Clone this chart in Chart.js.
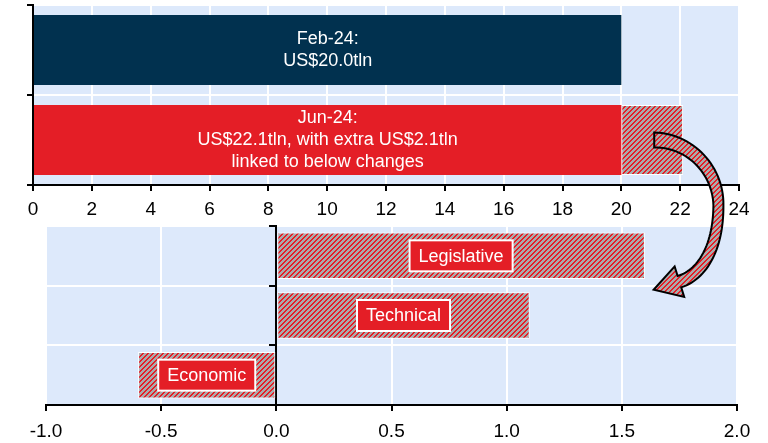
<!DOCTYPE html>
<html>
<head>
<meta charset="utf-8">
<script src="https://cdn.jsdelivr.net/npm/chart.js@4.4.1/dist/chart.umd.min.js"></script>
<style>
html,body{margin:0;padding:0;background:#fff;overflow:hidden}
#wrap{position:relative;width:768px;height:443px}
canvas{position:absolute;left:0;top:0}
</style>
</head>
<body>
<div id="wrap">
<canvas id="topc" width="768" height="443"></canvas>
<canvas id="botc" width="768" height="443"></canvas>
</div>
<script>
// ---- data ----
const TOP_CATEGORIES = ['Feb-24', 'Jun-24'];
const TOP_BASE = [20.0, 20.0];
const TOP_EXTRA = [0, 2.1];
const TOP_TEXT = [
  ['Feb-24:', 'US$20.0tln'],
  ['Jun-24:', 'US$22.1tln, with extra US$2.1tln', 'linked to below changes']
];
const TOP_TICK_MIN = 0, TOP_TICK_MAX = 24, TOP_TICK_STEP = 2;

const CHANGE_CATEGORIES = ['Legislative', 'Technical', 'Economic'];
const CHANGE_VALUES = [1.6, 1.1, -0.6];
const BOT_TICK_MIN = -1, BOT_TICK_MAX = 2, BOT_TICK_STEP = 0.5;

// ---- styles ----
const FONT = "'Liberation Sans', Arial, sans-serif";
const NAVY = '#01314f';
const RED = '#e41e26';
const GREY_RGB = [170, 170, 170];
const RED_RGB = [228, 30, 38];
const BG = '#dde9fb';

function makeHatch(ctx) {
  const c = document.createElement('canvas');
  c.width = 5; c.height = 5;
  const g = c.getContext('2d');
  const img = g.createImageData(5, 5);
  for (let y = 0; y < 5; y++) {
    for (let x = 0; x < 5; x++) {
      const col = ((x + y) % 5) < 2 ? RED_RGB : GREY_RGB;
      const k = (y * 5 + x) * 4;
      img.data[k] = col[0]; img.data[k + 1] = col[1]; img.data[k + 2] = col[2]; img.data[k + 3] = 255;
    }
  }
  g.putImageData(img, 0, 0);
  return ctx.createPattern(c, 'repeat');
}

const bgPlugin = {
  id: 'bg',
  beforeDraw(chart) {
    const { ctx, chartArea: a } = chart;
    ctx.save();
    ctx.fillStyle = BG;
    ctx.fillRect(a.left, a.top, a.right - a.left, a.bottom - a.top);
    ctx.restore();
  }
};

const topTextPlugin = {
  id: 'topText',
  afterDatasetsDraw(chart) {
    const ctx = chart.ctx;
    const meta = chart.getDatasetMeta(0);
    ctx.save();
    ctx.fillStyle = '#fff';
    ctx.font = '18px ' + FONT;
    ctx.textAlign = 'center';
    ctx.textBaseline = 'middle';
    const lh = 22;
    meta.data.forEach((el, i) => {
      const lines = TOP_TEXT[i];
      const cx = (el.x + el.base) / 2;
      const y0 = el.y - (lines.length - 1) * lh / 2;
      lines.forEach((ln, j) => ctx.fillText(ln, cx, y0 + j * lh));
    });
    ctx.restore();
  }
};

const changeLabelPlugin = {
  id: 'changeLabels',
  afterDatasetsDraw(chart) {
    const ctx = chart.ctx;
    const meta = chart.getDatasetMeta(0);
    ctx.save();
    ctx.font = '18px ' + FONT;
    ctx.textAlign = 'center';
    ctx.textBaseline = 'middle';
    meta.data.forEach((el, i) => {
      const txt = CHANGE_CATEGORIES[i];
      const w = ctx.measureText(txt).width + 18;
      const h = 31;
      const cx = (el.x + el.base) / 2, cy = el.y;
      ctx.fillStyle = RED;
      ctx.fillRect(cx - w / 2, cy - h / 2, w, h);
      ctx.strokeStyle = '#fff';
      ctx.lineWidth = 2;
      ctx.strokeRect(cx - w / 2, cy - h / 2, w, h);
      ctx.fillStyle = '#fff';
      ctx.fillText(txt, cx, cy + 1);
    });
    ctx.restore();
  }
};

function bez(p0, p1, p2, p3, t) {
  const u = 1 - t;
  return {
    x: u * u * u * p0.x + 3 * u * u * t * p1.x + 3 * u * t * t * p2.x + t * t * t * p3.x,
    y: u * u * u * p0.y + 3 * u * u * t * p1.y + 3 * u * t * t * p2.y + t * t * t * p3.y
  };
}
function bezD(p0, p1, p2, p3, t) {
  const u = 1 - t;
  return {
    x: 3 * u * u * (p1.x - p0.x) + 6 * u * t * (p2.x - p1.x) + 3 * t * t * (p3.x - p2.x),
    y: 3 * u * u * (p1.y - p0.y) + 6 * u * t * (p2.y - p1.y) + 3 * t * t * (p3.y - p2.y)
  };
}

let topChart = null;
const arrowPlugin = {
  id: 'arrow',
  afterDraw(chart) {
    if (!topChart) return;
    const ctx = chart.ctx;
    const xT = topChart.scales.x;
    const hatchEl = topChart.getDatasetMeta(1).data[1];
    const S = { x: (hatchEl.x + hatchEl.base) / 2 + 2, y: hatchEl.y };
    const R = { x: xT.getPixelForValue(23.3), y: (topChart.chartArea.bottom + chart.chartArea.top) / 2 };
    const xB = chart.scales.x, yB = chart.scales.y;
    const E = { x: xB.getPixelForValue(1.75), y: (yB.getPixelForValue(0) + yB.getPixelForValue(1)) / 2 - 4 };
    const segs = [
      { p: [S, { x: S.x + 35, y: S.y }, { x: R.x, y: R.y - 36 }, R], w0: 7.5, w1: 5 },
      { p: [R, { x: R.x, y: R.y + 40 }, { x: E.x + 24, y: E.y - 7.5 }, E], w0: 5, w1: 6 }
    ];
    const outer = [], inner = [];
    const N = 30;
    segs.forEach((s, si) => {
      for (let k = (si === 0 ? 0 : 1); k <= N; k++) {
        const t = k / N;
        const P = bez(s.p[0], s.p[1], s.p[2], s.p[3], t);
        const D = bezD(s.p[0], s.p[1], s.p[2], s.p[3], t);
        const L = Math.hypot(D.x, D.y) || 1;
        const nx = D.y / L, ny = -D.x / L;
        const w = s.w0 + (s.w1 - s.w0) * t;
        outer.push({ x: P.x + w * nx, y: P.y + w * ny });
        inner.push({ x: P.x - w * nx, y: P.y - w * ny });
      }
    });
    const s2 = segs[1].p;
    const De = bezD(s2[0], s2[1], s2[2], s2[3], 1);
    const Le = Math.hypot(De.x, De.y);
    const dx = De.x / Le, dy = De.y / Le;
    const nx = dy, ny = -dx;
    const wingO = { x: E.x + 16 * nx, y: E.y + 16 * ny };
    const wingI = { x: E.x - 16 * nx, y: E.y - 16 * ny };
    const tip = { x: E.x + 27 * dx, y: E.y + 27 * dy };
    ctx.save();
    ctx.beginPath();
    ctx.moveTo(outer[0].x, outer[0].y);
    outer.forEach(p => ctx.lineTo(p.x, p.y));
    ctx.lineTo(wingO.x, wingO.y);
    ctx.lineTo(tip.x, tip.y);
    ctx.lineTo(wingI.x, wingI.y);
    for (let i = inner.length - 1; i >= 0; i--) ctx.lineTo(inner[i].x, inner[i].y);
    ctx.closePath();
    ctx.fillStyle = makeHatch(ctx);
    ctx.fill();
    ctx.lineWidth = 2;
    ctx.lineJoin = 'miter';
    ctx.strokeStyle = '#000';
    ctx.stroke();
    ctx.restore();
  }
};

const axisGrid = { color: '#fff', lineWidth: 2, tickColor: '#000', tickLength: 6, tickWidth: 2 };
const axisBorder = { color: '#000', width: 2 };

const topCtx = document.getElementById('topc').getContext('2d');
const hatchTop = makeHatch(topCtx);
topChart = new Chart(topCtx, {
  type: 'bar',
  data: {
    labels: TOP_CATEGORIES,
    datasets: [
      { data: TOP_BASE, backgroundColor: [NAVY, RED], borderWidth: 0, barPercentage: 0.78, categoryPercentage: 1 },
      { data: TOP_EXTRA, backgroundColor: hatchTop, borderColor: '#fff', borderWidth: 1, borderSkipped: false, barPercentage: 0.78, categoryPercentage: 1 }
    ]
  },
  options: {
    indexAxis: 'y',
    responsive: false,
    animation: false,
    devicePixelRatio: 1,
    layout: { padding: { left: 33, right: 29, top: 5, bottom: 0 } },
    plugins: { legend: { display: false }, tooltip: { enabled: false } },
    scales: {
      x: {
        stacked: true, min: TOP_TICK_MIN, max: TOP_TICK_MAX,
        ticks: { stepSize: TOP_TICK_STEP, color: '#000', font: { family: FONT, size: 19 }, padding: 7, maxRotation: 0, autoSkip: false },
        grid: axisGrid, border: axisBorder,
        afterFit: s => { s.height = 258; }
      },
      y: {
        stacked: true,
        ticks: { display: false },
        grid: Object.assign({}, axisGrid, { offset: true }),
        border: axisBorder,
        afterFit: s => { s.width = 0; }
      }
    }
  },
  plugins: [bgPlugin, topTextPlugin]
});

const botCtx = document.getElementById('botc').getContext('2d');
const hatchBot = makeHatch(botCtx);
const botChart = new Chart(botCtx, {
  type: 'bar',
  data: {
    labels: CHANGE_CATEGORIES,
    datasets: [
      { data: CHANGE_VALUES, backgroundColor: hatchBot, borderColor: '#fff', borderWidth: 1, borderSkipped: false, barPercentage: 0.78, categoryPercentage: 1 }
    ]
  },
  options: {
    indexAxis: 'y',
    responsive: false,
    animation: false,
    devicePixelRatio: 1,
    layout: { padding: { left: 46, right: 31, top: 226, bottom: 0 } },
    plugins: { legend: { display: false }, tooltip: { enabled: false } },
    scales: {
      x: {
        min: BOT_TICK_MIN, max: BOT_TICK_MAX,
        ticks: { stepSize: BOT_TICK_STEP, color: '#000', font: { family: FONT, size: 19 }, padding: 9, maxRotation: 0, autoSkip: false,
          callback: v => Number(v).toFixed(1) },
        grid: axisGrid, border: axisBorder,
        afterFit: s => { s.height = 38; }
      },
      y: {
        position: { x: 0 },
        ticks: { display: false },
        grid: Object.assign({}, axisGrid, { offset: true }),
        border: axisBorder
      }
    }
  },
  plugins: [bgPlugin, changeLabelPlugin, arrowPlugin]
});
</script>
</body>
</html>
